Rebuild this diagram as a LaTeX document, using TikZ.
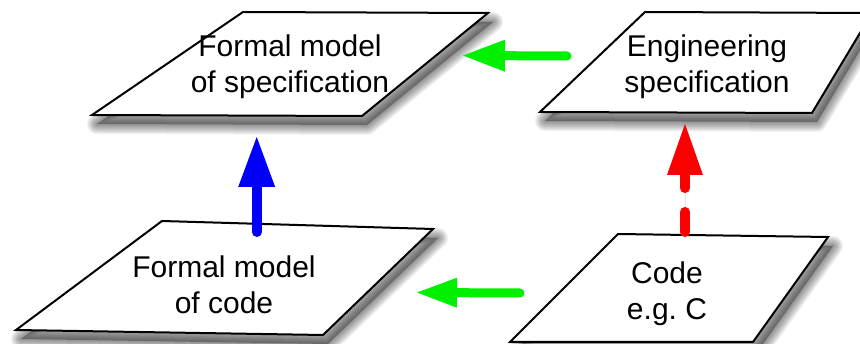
\documentclass[tikz,border=0pt]{standalone}
\usepackage{fontspec}
\setmainfont{Liberation Sans}
\usetikzlibrary{arrows.meta}

\definecolor{arrowgreen}{RGB}{0,240,0}
\definecolor{arrowblue}{RGB}{0,0,250}
\definecolor{arrowred}{RGB}{250,0,0}

\tikzset{
  plane/.style={draw=black, line width=2pt, line join=miter, fill=white},
  softedge/.style={draw=black, line join=round, opacity=0.05},
  label/.style={anchor=north, inner sep=0pt, align=center,
    font=\fontsize{30}{36}\selectfont},
  flow/.style={line width=10pt, line cap=round,
    -{Triangle[length=50pt,width=37pt,line width=0pt]}},
  sideflow/.style={line width=9pt, line cap=round, draw=arrowgreen,
    -{Triangle[length=42pt,width=32pt,line width=0pt]}}
}

% soft drop shadow under a closed four-corner plane
\newcommand{\planeshade}[4]{%
  \begin{scope}[shift={(5,9)}]
    \fill[black, opacity=0.3] (#1) -- (#2) -- (#3) -- (#4) -- cycle;
    \foreach \w in {2,4,...,20}
      \draw[softedge, line width=\w pt] (#1) -- (#2) -- (#3) -- (#4) -- cycle;
  \end{scope}}

\begin{document}
\begin{tikzpicture}[x=1pt,y=-1pt]
  \useasboundingbox (0,0) rectangle (860,344);
  \clip (0,0) rectangle (860,344);

  % corner points of the four planes
  \coordinate (fs1) at (243,12);  \coordinate (fs2) at (488,13);
  \coordinate (fs3) at (362,116); \coordinate (fs4) at (92,115);
  \coordinate (es1) at (645,12);  \coordinate (es2) at (872,13);
  \coordinate (es3) at (812,113); \coordinate (es4) at (540,112);
  \coordinate (fc1) at (162,221); \coordinate (fc2) at (433,229);
  \coordinate (fc3) at (323,335); \coordinate (fc4) at (16,330);
  \coordinate (cc1) at (618,234); \coordinate (cc2) at (828,237);
  \coordinate (cc3) at (753,342); \coordinate (cc4) at (510,342);

  \planeshade{243,12}{488,13}{362,116}{92,115}
  \planeshade{645,12}{872,13}{812,113}{540,112}
  \planeshade{162,221}{433,229}{323,335}{16,330}
  \planeshade{618,234}{828,237}{753,342}{510,342}

  \path[plane] (fs1) -- (fs2) -- (fs3) -- (fs4) -- cycle;
  \path[plane] (es1) -- (es2) -- (es3) -- (es4) -- cycle;
  \path[plane] (fc1) -- (fc2) -- (fc3) -- (fc4) -- cycle;
  \path[plane] (cc1) -- (cc2) -- (cc3) -- (cc4) -- cycle;

  % labels
  \node[label] (formalspec) at (290,35) {Formal model\\of specification};
  \node[label] (engspec)    at (707,35) {Engineering\\specification};
  \node[label] (formalcode) at (224,256) {Formal model\\of code};
  \node[label] (code)       at (667,262) {Code\\e.g.\ C};

  % connector ends
  \coordinate (blueS) at (256.7,232); \coordinate (blueE) at (256.7,137);
  \coordinate (redS)  at (685,232);   \coordinate (redE)  at (685,124);
  \coordinate (topS)  at (567,56);    \coordinate (topE)  at (463,55.5);
  \coordinate (botS)  at (520,293);   \coordinate (botE)  at (417,292.5);

  \draw[flow, draw=arrowblue, fill=arrowblue] (blueS) -- (blueE);
  \draw[flow, draw=arrowred, fill=arrowred, dash pattern=on 20pt off 24pt on 200pt,
    -{Triangle[length=51pt,width=36pt,line width=0pt]}] (redS) -- (redE);
  \draw[sideflow] (topS) -- (topE);
  \draw[sideflow, -{Triangle[length=40pt,width=30pt,line width=0pt]}] (botS) -- (botE);
\end{tikzpicture}
\end{document}
